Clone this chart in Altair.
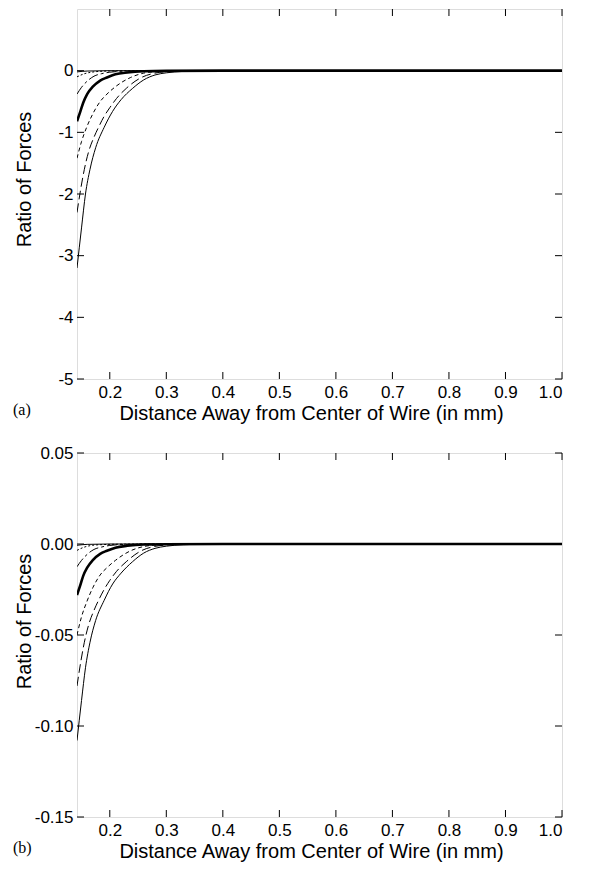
import altair as alt
import pandas as pd

# ---------------- data ----------------
x_ticks = [0.2, 0.3, 0.4, 0.5, 0.6, 0.7, 0.8, 0.9, 1.0]
ya_ticks = [-5, -4, -3, -2, -1, 0]
yb_ticks = [-0.15, -0.10, -0.05, 0.00, 0.05]

# curve 1: thin solid (outermost)
x_c1 = [0.142, 0.15, 0.157, 0.165, 0.175, 0.19, 0.205, 0.22, 0.24, 0.26, 0.28, 0.30, 0.33, 0.36, 0.40, 0.50, 1.00]
a_c1 = [-3.2, -2.55, -2.0, -1.6, -1.25, -0.92, -0.66, -0.47, -0.29, -0.15, -0.07, -0.035, -0.012, -0.004, -0.001, 0, 0]
b_c1 = [-0.108, -0.086, -0.068, -0.054, -0.042, -0.031, -0.022, -0.016, -0.0098, -0.005, -0.0024, -0.0012, -0.0004, -0.00015, 0, 0, 0]
# curve 2: long dash
x_c2 = [0.142, 0.148, 0.155, 0.163, 0.172, 0.18, 0.19, 0.20, 0.212, 0.23, 0.254, 0.28, 0.31, 0.35, 0.40, 1.00]
a_c2 = [-2.3, -1.95, -1.6, -1.3, -1.08, -0.92, -0.74, -0.6, -0.45, -0.28, -0.12, -0.04, -0.012, -0.003, 0, 0]
b_c2 = [-0.078, -0.066, -0.054, -0.044, -0.0365, -0.031, -0.025, -0.020, -0.015, -0.0095, -0.004, -0.0013, -0.0004, -0.0001, 0, 0]
# curve 3: short dash
x_c3 = [0.142, 0.15, 0.159, 0.17, 0.183, 0.195, 0.21, 0.237, 0.26, 0.29, 0.33, 0.40, 1.00]
a_c3 = [-1.42, -1.15, -0.92, -0.70, -0.50, -0.38, -0.26, -0.11, -0.04, -0.012, -0.003, 0, 0]
b_c3 = [-0.05, -0.04, -0.032, -0.024, -0.017, -0.013, -0.009, -0.0037, -0.0014, -0.0004, -0.0001, 0, 0]
# curve 4: thick solid
x_c4 = [0.142, 0.148, 0.153, 0.16, 0.17, 0.183, 0.195, 0.21, 0.231, 0.26, 0.30, 0.40, 1.00]
a_c4 = [-0.82, -0.66, -0.52, -0.38, -0.26, -0.16, -0.11, -0.06, -0.03, -0.01, -0.003, 0, 0]
b_c4 = [-0.028, -0.0225, -0.0175, -0.013, -0.0088, -0.0054, -0.0037, -0.002, -0.001, -0.0003, -0.0001, 0, 0]
# curve 5: dash-dot
x_c5 = [0.142, 0.15, 0.16, 0.172, 0.185, 0.20, 0.22, 0.25, 0.30, 1.00]
a_c5 = [-0.38, -0.27, -0.17, -0.09, -0.05, -0.025, -0.01, -0.004, 0, 0]
b_c5 = [-0.0125, -0.009, -0.0057, -0.003, -0.0017, -0.0008, -0.0003, -0.0001, 0, 0]
# curve 6: dotted
x_c6 = [0.142, 0.155, 0.17, 0.19, 0.22, 0.26, 1.00]
a_c6 = [-0.1, -0.05, -0.022, -0.008, -0.002, 0, 0]
b_c6 = [-0.0035, -0.0017, -0.0007, -0.0003, -0.0001, 0, 0]
# curve 7: thin solid near zero
x_c7 = [0.142, 0.16, 0.20, 1.00]
a_c7 = [-0.02, -0.006, 0, 0]
b_c7 = [-0.0007, -0.0002, 0, 0]

curves_x = [x_c1, x_c2, x_c3, x_c4, x_c5, x_c6, x_c7]
curves_a = [a_c1, a_c2, a_c3, a_c4, a_c5, a_c6, a_c7]
curves_b = [b_c1, b_c2, b_c3, b_c4, b_c5, b_c6, b_c7]
styles = [
    (None, 1.0),
    ([9, 4], 1.0),
    ([4, 3], 1.0),
    (None, 2.6),
    ([10, 3, 3, 3], 1.0),
    ([2, 2], 1.0),
    (None, 1.0),
]

W = 485
FONT = "Liberation Sans"
FS = 17
TFS = 20
TICK = 7


def panel(curves_y, ydom, yticks, ylabel_expr, H, tag, title_y):
    xs = alt.Scale(domain=[0.142, 1.0], nice=False, zero=False)
    ys = alt.Scale(domain=ydom, nice=False, zero=False)
    x_axis = alt.Axis(
        values=x_ticks, format=".1f", ticks=False, domain=False, grid=False,
        labelFont=FONT, labelFontSize=FS, labelPadding=5, labelColor="black",
        title="Distance Away from Center of Wire (in mm)", titleFont=FONT,
        titleFontSize=TFS, titleFontWeight="normal", titleColor="black",
        titlePadding=3, titleX=234,
    )
    y_axis = alt.Axis(
        values=yticks, labelExpr=ylabel_expr, ticks=False, domain=False, grid=False,
        labelFont=FONT, labelFontSize=FS, labelPadding=4, labelColor="black",
        title="Ratio of Forces", titleFont=FONT, titleFontSize=TFS,
        titleFontWeight="normal", titleColor="black",
        titleX=-53, titleY=title_y, titleAngle=-90, titleBaseline="middle",
        titleAlign="center",
    )
    X = lambda f: alt.X(f, scale=xs, axis=x_axis)
    Y = lambda f: alt.Y(f, scale=ys, axis=y_axis)
    layers = []
    for i, (xv, yv) in enumerate(zip(curves_x, curves_y)):
        dash, sw = styles[i]
        df = pd.DataFrame({"x": xv, "y": yv})
        mk = dict(color="black", strokeWidth=sw, interpolate="monotone", clip=True)
        if dash:
            mk["strokeDash"] = dash
        layers.append(alt.Chart(df).mark_line(**mk).encode(x=X("x:Q"), y=Y("y:Q")))
    xt = pd.DataFrame({"x": x_ticks})
    yt = pd.DataFrame({"y": yticks})
    layers.append(
        alt.Chart(xt).mark_rule(color="black", strokeWidth=1).encode(
            x=X("x:Q"), y=alt.value(0), y2=alt.value(TICK)))
    layers.append(
        alt.Chart(xt).mark_rule(color="black", strokeWidth=1).encode(
            x=X("x:Q"), y=alt.value(H - TICK), y2=alt.value(H)))
    layers.append(
        alt.Chart(yt).mark_rule(color="black", strokeWidth=1).encode(
            y=Y("y:Q"), x=alt.value(0), x2=alt.value(TICK)))
    layers.append(
        alt.Chart(yt).mark_rule(color="black", strokeWidth=1).encode(
            y=Y("y:Q"), x=alt.value(W - TICK), x2=alt.value(W)))
    layers.append(
        alt.Chart(pd.DataFrame({"lab": [tag]})).mark_text(
            font="Liberation Serif", fontSize=16, align="left", baseline="middle",
            color="black").encode(
            text="lab:N", x=alt.value(-64), y=alt.value(H + 31)))
    return alt.layer(*layers).properties(width=W, height=H)


pa = panel(curves_a, [-5, 1], ya_ticks, "datum.value + ''", 370, "(a)", 170)
pb = panel(curves_b, [-0.15, 0.05], yb_ticks,
           "replace(format(datum.value, '.2f'), '\u2212', '-')", 364, "(b)", 168)

chart = alt.vconcat(pa, pb, spacing=19).properties(
    padding={"left": 4, "top": 0, "right": 5, "bottom": 5}
).configure_view(stroke="black", strokeWidth=1.5).configure(background="white")

chart.save("out.html", embed_options={"renderer": "svg", "actions": False})
